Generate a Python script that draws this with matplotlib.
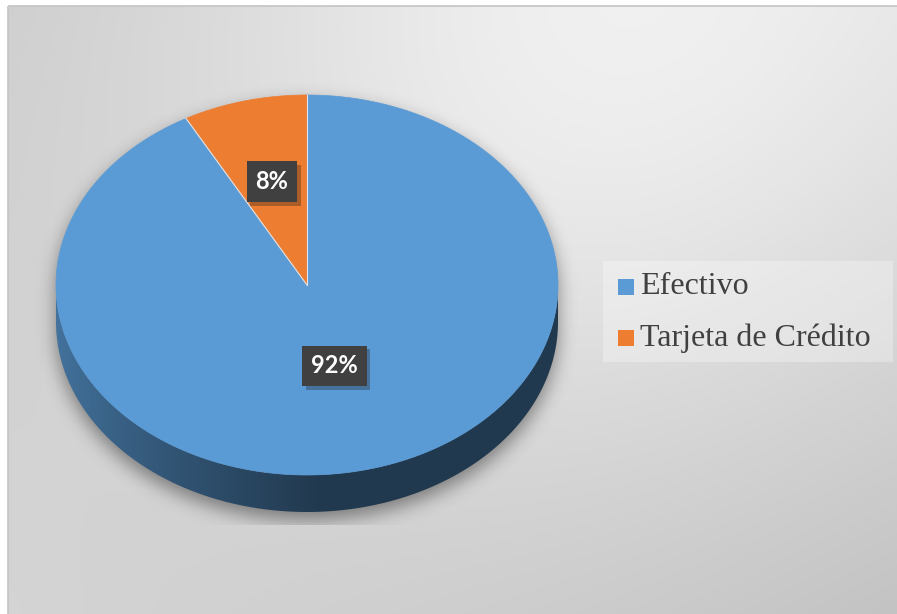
import numpy as np
import matplotlib.pyplot as plt
import matplotlib.patheffects as pe
from matplotlib.patches import Polygon, Rectangle

# payment method shares (percent)
categories = ['Efectivo', 'Tarjeta de Crédito']
shares = [92, 8]
label_texts = ['92%', '8%']
slice_colors = ['#5B9BD5', '#ED7D31']

W, H = 897, 614
fig = plt.figure(figsize=(W / 100, H / 100), dpi=100)
ax = fig.add_axes([0, 0, 1, 1])
ax.set_xlim(0, W)
ax.set_ylim(H, 0)
ax.axis('off')

# --- chart area background: soft light spot near the top, grey corners ---
x0, y0 = 8, 6
yy, xx = np.mgrid[y0:H, x0:W] + 0.5
u = (xx - x0) / (W - x0)
v = (yy - y0) / (H - y0)
tl, tr, bl, br = 0.80, 0.85, 0.83, 0.755
base = (tl * (1 - u) + tr * u) * (1 - v) + (bl * (1 - u) + br * u) * v
spot = 0.11 * np.exp(-((xx - 590) ** 2 + (yy - 60) ** 2) / (2 * 290 ** 2))
bg = np.clip(base + spot, 0, 1)
ax.imshow(np.dstack([bg, bg, bg]), extent=(x0, W, H, y0), origin='upper',
          interpolation='bilinear', zorder=0)
ax.add_patch(Rectangle((x0, y0), W - x0 + 5, H - y0 + 5, fill=False,
                       ec='#c4c4c4', lw=1.2, zorder=1))

# --- pie geometry ---
cx, cy, rx, ry, depth = 307, 285, 251, 190, 37


def ell(t, dy=0):
    t = np.radians(t)
    return np.column_stack([cx + rx * np.cos(t), cy - ry * np.sin(t) + dy])


# slices run clockwise from 12 o'clock
bounds = []
start = 90.0
for s in shares:
    end = start - 360.0 * s / sum(shares)
    bounds.append((end, start))
    start = end

# drop shadow: blurred silhouette pushed a little downwards
sy, sx = np.mgrid[0:H, 0:W] + 0.5
off = 8
top = ((sx - cx) / rx) ** 2 + ((sy - cy - off) / ry) ** 2 <= 1
bot = ((sx - cx) / rx) ** 2 + ((sy - cy - depth - off) / ry) ** 2 <= 1
mid = (np.abs(sx - cx) <= rx) & (sy >= cy + off) & (sy <= cy + depth + off)
mask = (top | bot | mid).astype(float)
k = np.exp(-np.arange(-30, 31) ** 2 / (2 * 9.0 ** 2))
k /= k.sum()
mask = np.apply_along_axis(lambda r: np.convolve(r, k, mode='same'), 1, mask)
mask = np.apply_along_axis(lambda c: np.convolve(c, k, mode='same'), 0, mask)
mask[sy > 525] = 0
shadow = np.zeros((H, W, 4))
shadow[..., 3] = 0.42 * mask
ax.imshow(shadow, extent=(0, W, H, 0), origin='upper', zorder=2)

# side wall, only the front half (180..360 deg) shows
for (a1, a2), col in zip(bounds, slice_colors):
    rgb = np.array(plt.matplotlib.colors.to_rgb(col))
    for shift in (-360, 0, 360):
        lo, hi = max(a1 + shift, -180), min(a2 + shift, 0)
        if hi <= lo:
            continue
        ts = np.linspace(lo, hi, 200)
        pts = np.vstack([ell(ts), ell(ts[::-1], depth)])
        wall = Polygon(pts, closed=True, fc='none', ec='none', zorder=3)
        ax.add_patch(wall)
        gx = np.linspace(cx - rx, cx + rx, 400)
        g = np.clip((gx - (cx - rx)) / (rx * 1.05), 0, 1) ** 0.8
        light, dark = rgb * 0.74, rgb * 0.37
        grad = light[None, :] * (1 - g[:, None]) + dark[None, :] * g[:, None]
        im = ax.imshow(grad[None, :, :], extent=(cx - rx, cx + rx, cy + depth + ry + 2, cy - 2),
                       aspect='auto', interpolation='bilinear', zorder=3)
        im.set_clip_path(wall)

# top face
for (a1, a2), col in zip(bounds, slice_colors):
    ts = np.linspace(a1, a2, 300)
    pts = np.vstack([[cx, cy], ell(ts)])
    ax.add_patch(Polygon(pts, closed=True, fc=col, ec=col, lw=0.5, zorder=4))
# thin light seams between slices
for a1, _ in bounds:
    edge = ell([a1])[0]
    ax.plot([cx, edge[0]], [cy, edge[1]], color='#dce6f0', lw=0.8, zorder=4.5)

# data labels in dark boxes
label_r = [0.44, 0.56]
for (a1, a2), txt, r in zip(bounds, label_texts, label_r):
    m = np.radians((a1 + a2) / 2)
    lx, ly = cx + r * rx * np.cos(m), cy - r * ry * np.sin(m)
    t = ax.text(lx, ly, txt, ha='center', va='center', color='white',
                fontsize=17, fontweight='bold', family='Lato', zorder=6,
                bbox=dict(boxstyle='square,pad=0.38', fc='#404040', ec='none'))
    t.get_bbox_patch().set_path_effects(
        [pe.SimplePatchShadow(offset=(2.5, -2.5), alpha=0.3), pe.Normal()])

# legend
ax.add_patch(Rectangle((603, 261), 290, 101, fc='white', ec='none', alpha=0.3, zorder=5))
for i, (name, col) in enumerate(zip(categories, slice_colors)):
    yc = 287 + 51 * i
    ax.add_patch(Rectangle((618, yc - 8), 16, 16, fc=col, ec='none', zorder=6))
    ax.text(640, yc, name, ha='left', va='center', fontsize=23,
            family='Liberation Serif', color='#404040', zorder=6)

fig.savefig('out.png', dpi=100)
